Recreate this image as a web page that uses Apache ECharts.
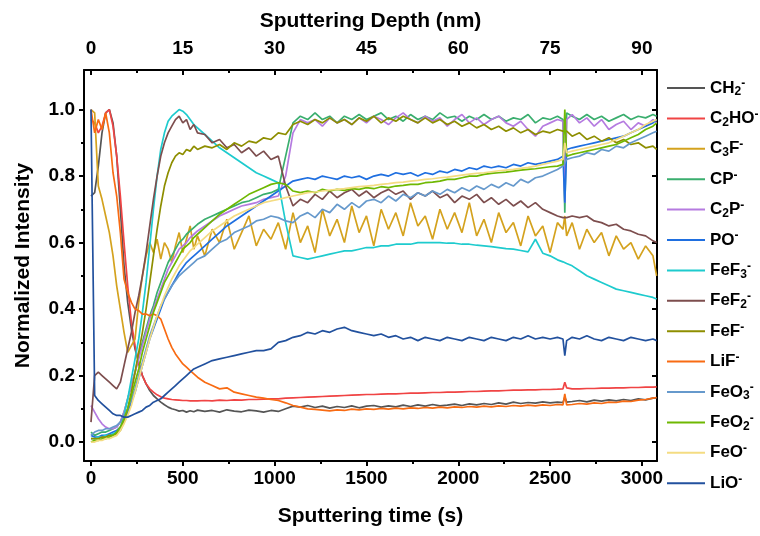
<!DOCTYPE html>
<html>
<head>
<meta charset="utf-8">
<script src="https://cdn.jsdelivr.net/npm/echarts@6/dist/echarts.min.js"></script>
<style>
html, body { margin: 0; padding: 0; background: #fff; }
#chart { width: 760px; height: 536px; }
</style>
</head>
<body>
<div id="chart"></div>
<script>
// sputtering time (s) of each sample
const times = [
  0, 20, 40, 60, 80, 100, 120, 140, 160, 180, 200, 220, 240, 260, 280, 300, 320, 340, 360, 380,
  400, 420, 440, 460, 480, 500, 520, 540, 560, 580,
  620, 660, 700, 740, 780, 820, 860, 900, 940, 980, 1020, 1060, 1100, 1140, 1180, 1220, 1260, 1300, 1340, 1380,
  1420, 1460, 1500, 1540, 1580, 1620, 1660, 1700, 1740, 1780, 1820, 1860, 1900, 1940, 1980, 2020, 2060, 2100, 2140, 2180,
  2220, 2260, 2300, 2340, 2380, 2420, 2460, 2500, 2540,
  2570, 2580, 2590,
  2620, 2660, 2700, 2740, 2780, 2820, 2860, 2900, 2940, 2980, 3020, 3060,
  3080
];

const ch2 = [
  0.74, 0.75, 0.83, 0.93, 0.99, 1.0, 0.96, 0.86, 0.7, 0.53,
  0.42, 0.34, 0.28, 0.24, 0.2, 0.175, 0.155, 0.14, 0.13, 0.12,
  0.112, 0.105, 0.1, 0.097, 0.093, 0.095, 0.09, 0.094, 0.091, 0.096,
  0.092, 0.095, 0.09, 0.097, 0.093, 0.091, 0.096, 0.094, 0.09, 0.095,
  0.092, 0.1, 0.108, 0.105, 0.11, 0.104, 0.108, 0.102, 0.107, 0.104,
  0.109, 0.103, 0.108, 0.11, 0.105, 0.109, 0.106, 0.111, 0.107, 0.112,
  0.108, 0.113, 0.109, 0.111, 0.114, 0.11, 0.115, 0.112, 0.116, 0.113,
  0.118, 0.114, 0.12, 0.116, 0.119, 0.117, 0.121, 0.118, 0.12,
  0.119, 0.135, 0.12,
  0.122, 0.125, 0.121, 0.126, 0.123, 0.127, 0.124, 0.128, 0.125, 0.13, 0.127, 0.132,
  0.133
];
const c2ho = [
  0.97, 0.96, 0.93, 0.95, 0.99, 1.0, 0.95, 0.86, 0.74, 0.6,
  0.47, 0.36, 0.29, 0.235, 0.2, 0.175, 0.16, 0.15, 0.142, 0.136,
  0.132, 0.13, 0.128, 0.127, 0.126, 0.125, 0.125, 0.124, 0.124, 0.124,
  0.125, 0.124, 0.126, 0.125, 0.127, 0.126, 0.128, 0.128, 0.129, 0.13,
  0.13, 0.132, 0.133, 0.134, 0.135, 0.136, 0.137, 0.138, 0.139, 0.14,
  0.141, 0.142, 0.143, 0.143, 0.144, 0.145, 0.145, 0.146, 0.147, 0.147,
  0.148, 0.149, 0.149, 0.15, 0.15, 0.151, 0.152, 0.152, 0.153, 0.154,
  0.154, 0.155, 0.156, 0.156, 0.157, 0.157, 0.158, 0.158, 0.159,
  0.16, 0.18, 0.163,
  0.16, 0.16, 0.161, 0.161, 0.162, 0.162, 0.163, 0.163, 0.164, 0.164, 0.165, 0.165,
  0.166
];
const c3f = [
  1.0, 0.99, 0.77, 0.73, 0.68, 0.63, 0.56, 0.47, 0.4, 0.33,
  0.27, 0.29, 0.31, 0.42, 0.5, 0.56, 0.6, 0.57, 0.61, 0.55,
  0.6, 0.58, 0.54, 0.59, 0.63, 0.57, 0.61, 0.65, 0.58, 0.62,
  0.56, 0.64, 0.6, 0.67, 0.58, 0.63, 0.68, 0.59, 0.64, 0.61,
  0.66, 0.58, 0.69, 0.6, 0.65, 0.57, 0.7, 0.62, 0.67, 0.6,
  0.71, 0.63, 0.68, 0.59, 0.7, 0.64, 0.69, 0.62, 0.72, 0.65,
  0.68, 0.61, 0.7, 0.64, 0.69, 0.63, 0.72, 0.62, 0.67, 0.6,
  0.69, 0.63, 0.66, 0.59, 0.68, 0.62, 0.65, 0.57, 0.66,
  0.64, 0.68, 0.62,
  0.66, 0.58, 0.64, 0.6, 0.63, 0.56, 0.62, 0.58, 0.6, 0.55, 0.59, 0.56,
  0.5
];
const cp = [
  0.03, 0.02, 0.025, 0.03, 0.03, 0.035, 0.04, 0.045, 0.06, 0.09,
  0.13, 0.17, 0.21, 0.26, 0.3, 0.34, 0.38, 0.41, 0.45, 0.48,
  0.51, 0.54, 0.56, 0.58, 0.6, 0.61, 0.625, 0.635, 0.645, 0.655,
  0.67, 0.68, 0.69, 0.7, 0.71, 0.72, 0.725, 0.735, 0.745, 0.75,
  0.76, 0.86, 0.96, 0.98, 0.97, 0.99, 0.97, 0.98, 0.96, 0.98,
  0.97, 0.985, 0.97, 0.98, 0.99, 0.97, 0.98, 0.965, 0.985, 0.97,
  0.98, 0.97, 0.99, 0.975, 0.98, 0.965, 0.98, 0.97, 0.985, 0.97,
  0.98, 0.965, 0.975, 0.97, 0.985, 0.96, 0.975, 0.97, 0.98,
  0.97, 0.69, 0.99,
  0.98, 0.97, 0.985, 0.97, 0.98, 0.965, 0.975, 0.985, 0.97, 0.98, 0.975, 0.985,
  0.98
];
const c2p = [
  0.11, 0.09, 0.07, 0.055, 0.045, 0.04, 0.04, 0.045, 0.06, 0.09,
  0.13, 0.17, 0.21, 0.25, 0.29, 0.33, 0.37, 0.4, 0.43, 0.46,
  0.49, 0.52, 0.54, 0.56, 0.58, 0.59, 0.6, 0.615, 0.625, 0.635,
  0.65, 0.665, 0.68, 0.69, 0.7, 0.71, 0.715, 0.72, 0.73, 0.735,
  0.74, 0.8, 0.93, 0.97, 0.96, 0.97, 0.95, 0.975, 0.96, 0.97,
  0.955, 0.975, 0.96, 0.98, 0.97, 0.955, 0.975, 0.99, 0.97, 0.96,
  0.98, 0.965, 0.975, 0.95, 0.97, 0.985, 0.96, 0.975, 0.955, 0.97,
  0.98, 0.96, 0.95, 0.965, 0.94, 0.92, 0.95, 0.96, 0.97,
  0.965, 0.72, 0.97,
  0.985, 0.96, 0.975, 0.95, 0.97, 0.94, 0.955, 0.965, 0.94, 0.96, 0.95, 0.97,
  0.96
];
const po = [
  0.02, 0.015, 0.015, 0.02, 0.02, 0.025, 0.03, 0.035, 0.045, 0.065,
  0.09, 0.12, 0.15, 0.19, 0.23, 0.27, 0.31, 0.34, 0.37, 0.4,
  0.43, 0.45, 0.47, 0.49, 0.51, 0.525, 0.54, 0.55, 0.56, 0.57,
  0.59, 0.61, 0.63, 0.65, 0.665, 0.68, 0.695, 0.71, 0.725, 0.74,
  0.755, 0.77, 0.785, 0.79, 0.795, 0.79, 0.8, 0.795, 0.79, 0.8,
  0.795, 0.8, 0.79, 0.8, 0.805, 0.8, 0.81, 0.805, 0.81, 0.8,
  0.81, 0.805, 0.815, 0.81, 0.82, 0.815, 0.825, 0.82, 0.83, 0.825,
  0.83, 0.825, 0.835, 0.83, 0.84, 0.835, 0.84, 0.845, 0.85,
  0.86, 0.72, 0.88,
  0.885, 0.89, 0.895, 0.9, 0.905, 0.91, 0.915, 0.92, 0.93, 0.94, 0.95, 0.96,
  0.97
];
const fef3 = [
  0.01, 0.01, 0.015, 0.015, 0.02, 0.02, 0.025, 0.03, 0.04, 0.08,
  0.13, 0.19, 0.25, 0.31, 0.39, 0.48, 0.59, 0.7, 0.8, 0.88,
  0.93, 0.965, 0.98, 0.99, 1.0, 0.995, 0.985, 0.97, 0.955, 0.945,
  0.925, 0.905, 0.885, 0.87, 0.855, 0.84, 0.825, 0.81, 0.8, 0.79,
  0.78, 0.66, 0.56, 0.555, 0.55, 0.555, 0.56, 0.565, 0.57, 0.575,
  0.575, 0.58, 0.585, 0.585, 0.59, 0.59, 0.595, 0.595, 0.595, 0.6,
  0.6, 0.6, 0.6, 0.598, 0.598, 0.595, 0.595, 0.592, 0.59, 0.588,
  0.585, 0.582, 0.58, 0.576, 0.572, 0.61, 0.568, 0.56, 0.548,
  0.542, 0.54, 0.537,
  0.53, 0.515, 0.5, 0.49, 0.48, 0.47, 0.46, 0.455, 0.45, 0.445, 0.44, 0.435,
  0.43
];
const fef2 = [
  0.06, 0.2, 0.21, 0.2, 0.19, 0.18, 0.17, 0.16, 0.18, 0.23,
  0.28, 0.33, 0.39, 0.44, 0.5, 0.57, 0.65, 0.73, 0.8, 0.86,
  0.9, 0.93, 0.95, 0.97, 0.98, 0.96, 0.97, 0.94, 0.955, 0.93,
  0.925, 0.9, 0.91, 0.885, 0.895, 0.87, 0.885, 0.86, 0.875, 0.85,
  0.86, 0.77, 0.71, 0.73, 0.72, 0.745, 0.73, 0.755, 0.735, 0.75,
  0.76, 0.74, 0.755, 0.735, 0.75, 0.76, 0.745, 0.755, 0.73, 0.75,
  0.74, 0.755, 0.735, 0.745, 0.72, 0.74, 0.73, 0.745, 0.72, 0.735,
  0.715, 0.73, 0.71, 0.725, 0.705, 0.72, 0.7, 0.69, 0.68,
  0.675, 0.67, 0.675,
  0.68, 0.675, 0.68, 0.665, 0.66, 0.65, 0.655, 0.64, 0.635, 0.625, 0.62, 0.605,
  0.6
];
const fef = [
  0.01, 0.01, 0.01, 0.015, 0.015, 0.02, 0.02, 0.025, 0.035, 0.06,
  0.1, 0.15, 0.21, 0.27, 0.33, 0.4, 0.48, 0.56, 0.64, 0.71,
  0.77, 0.81, 0.84, 0.86, 0.87, 0.865, 0.88, 0.875, 0.89, 0.88,
  0.89, 0.885, 0.895, 0.88, 0.9, 0.89, 0.905, 0.9, 0.915, 0.91,
  0.93, 0.925, 0.955, 0.965, 0.955, 0.97, 0.96, 0.975, 0.96, 0.97,
  0.955, 0.975, 0.965, 0.98, 0.96, 0.975, 0.965, 0.98, 0.97, 0.96,
  0.975, 0.96, 0.97, 0.955, 0.965, 0.95, 0.96, 0.945, 0.955, 0.94,
  0.95, 0.935, 0.945, 0.93, 0.94, 0.925, 0.935, 0.93, 0.94,
  0.935, 0.93, 0.935,
  0.92, 0.93, 0.91, 0.92, 0.905, 0.915, 0.9, 0.91, 0.895, 0.9, 0.885, 0.89,
  0.88
];
const lif = [
  1.0, 0.93, 0.97, 0.94, 0.99, 0.93, 0.81, 0.74, 0.63, 0.49,
  0.45, 0.42, 0.4, 0.395, 0.385, 0.385, 0.38, 0.385, 0.38, 0.37,
  0.34, 0.31, 0.285, 0.265, 0.25, 0.235, 0.225, 0.215, 0.205, 0.195,
  0.18, 0.17, 0.16, 0.163, 0.15, 0.145, 0.14, 0.135, 0.132, 0.128,
  0.125, 0.118, 0.11, 0.105, 0.1, 0.098, 0.096, 0.094, 0.097, 0.095,
  0.099, 0.097, 0.1, 0.098, 0.101, 0.099, 0.102, 0.1, 0.103, 0.101,
  0.104, 0.102, 0.105, 0.103, 0.106, 0.104, 0.107, 0.105, 0.108, 0.106,
  0.109, 0.107, 0.11, 0.108, 0.111, 0.109, 0.112, 0.11, 0.113,
  0.112, 0.145, 0.112,
  0.113, 0.116, 0.114, 0.118, 0.116, 0.12, 0.119, 0.123, 0.122, 0.126, 0.128, 0.132,
  0.134
];
const feo3 = [
  0.02, 0.03, 0.035, 0.035, 0.04, 0.04, 0.045, 0.05, 0.06, 0.08,
  0.1, 0.13, 0.16, 0.2, 0.24, 0.28, 0.32, 0.35, 0.38, 0.41,
  0.43, 0.45, 0.47, 0.485, 0.5, 0.51, 0.52, 0.53, 0.54, 0.55,
  0.56, 0.58, 0.6, 0.61, 0.63, 0.64, 0.65, 0.665, 0.67, 0.68,
  0.675, 0.665, 0.66, 0.68, 0.69, 0.675, 0.7, 0.69, 0.715, 0.7,
  0.72, 0.705, 0.725, 0.73, 0.72, 0.74, 0.725, 0.745, 0.735, 0.75,
  0.74, 0.755, 0.745, 0.76, 0.75, 0.765, 0.755, 0.77, 0.76, 0.775,
  0.765, 0.78, 0.77, 0.79, 0.78, 0.795, 0.8, 0.81, 0.82,
  0.83, 0.84, 0.85,
  0.855, 0.86, 0.87, 0.865, 0.88, 0.875, 0.89, 0.885, 0.9, 0.91, 0.92, 0.93,
  0.935
];
const feo2 = [
  0.0, 0.005, 0.005, 0.01, 0.01, 0.015, 0.02, 0.03, 0.045, 0.07,
  0.1, 0.14, 0.18, 0.22, 0.27, 0.31, 0.35, 0.39, 0.42, 0.45,
  0.48, 0.5, 0.52, 0.54, 0.56, 0.58, 0.59, 0.6, 0.615, 0.625,
  0.645, 0.665, 0.685, 0.7, 0.715, 0.73, 0.745, 0.755, 0.765, 0.775,
  0.78, 0.775, 0.755, 0.75, 0.755, 0.75, 0.76, 0.755, 0.76, 0.757,
  0.762, 0.76, 0.765, 0.762, 0.768, 0.765, 0.77, 0.772, 0.775, 0.775,
  0.78, 0.782, 0.785, 0.79, 0.79, 0.795, 0.8, 0.8, 0.805, 0.808,
  0.81, 0.812, 0.815, 0.818, 0.82, 0.822, 0.825, 0.828, 0.83,
  0.835, 1.0, 0.86,
  0.865, 0.87, 0.875, 0.88, 0.885, 0.89, 0.895, 0.905, 0.915, 0.925, 0.94, 0.95,
  0.96
];
const feo = [
  0.0, 0.0, 0.005, 0.005, 0.01, 0.01, 0.015, 0.02, 0.035, 0.055,
  0.08, 0.11, 0.15, 0.19, 0.23, 0.27, 0.31, 0.345, 0.38, 0.41,
  0.44, 0.465, 0.49, 0.51, 0.53, 0.545, 0.56, 0.575, 0.585, 0.595,
  0.615, 0.635, 0.65, 0.665, 0.68, 0.69, 0.7, 0.71, 0.72, 0.725,
  0.73, 0.735, 0.74, 0.745, 0.75, 0.752, 0.755, 0.758, 0.76, 0.762,
  0.765, 0.768, 0.77, 0.772, 0.775, 0.777, 0.78, 0.782, 0.785, 0.787,
  0.79, 0.792, 0.795, 0.797, 0.8, 0.803, 0.806, 0.808, 0.81, 0.813,
  0.816, 0.818, 0.82, 0.823, 0.826, 0.83, 0.835, 0.84, 0.845,
  0.85, 0.9, 0.87,
  0.875, 0.88, 0.885, 0.89, 0.895, 0.9, 0.91, 0.92, 0.93, 0.94, 0.955, 0.965,
  0.97
];
const lio = [
  1.0, 0.14, 0.125, 0.115, 0.105, 0.095, 0.085, 0.08, 0.08, 0.075,
  0.075, 0.08, 0.085, 0.09, 0.095, 0.105, 0.11, 0.12, 0.125, 0.13,
  0.14, 0.15, 0.16, 0.17, 0.18, 0.19, 0.2, 0.21, 0.22, 0.225,
  0.235, 0.245, 0.25, 0.255, 0.26, 0.265, 0.27, 0.275, 0.275, 0.28,
  0.3, 0.305, 0.315, 0.32, 0.33, 0.325, 0.335, 0.33, 0.34, 0.345,
  0.335, 0.33, 0.325, 0.32, 0.325, 0.315, 0.32, 0.31, 0.315, 0.305,
  0.315, 0.31, 0.305, 0.315, 0.31, 0.305, 0.315, 0.31, 0.305, 0.315,
  0.31, 0.305, 0.315, 0.31, 0.32, 0.31, 0.315, 0.31, 0.315,
  0.31, 0.26, 0.305,
  0.315, 0.31, 0.32, 0.31, 0.305, 0.315, 0.31, 0.305, 0.315, 0.31, 0.305, 0.31,
  0.305
];

const names = ['CH2-', 'C2HO-', 'C3F-', 'CP-', 'C2P-', 'PO-', 'FeF3-', 'FeF2-', 'FeF-', 'LiF-', 'FeO3-', 'FeO2-', 'FeO-', 'LiO-'];
const values = [ch2, c2ho, c3f, cp, c2p, po, fef3, fef2, fef, lif, feo3, feo2, feo, lio];
const colors = ['#555555', '#F04444', '#D4A21E', '#3AAE6E', '#B57BE0', '#1F6FE0', '#1ECBCE',
  '#7D4E4E', '#8E8E00', '#F86B13', '#6699CC', '#6FB802', '#F4DC82', '#22519E'];

const timeTicks = [0, 500, 1000, 1500, 2000, 2500, 3000];
const timeMinor = [250, 750, 1250, 1750, 2250, 2750];
const depthTicks = [0, 15, 30, 45, 60, 75, 90];
const depthMinor = [7.5, 22.5, 37.5, 52.5, 67.5, 82.5];
const yTicks = [0, 0.2, 0.4, 0.6, 0.8, 1.0];
const yMinor = [0.1, 0.3, 0.5, 0.7, 0.9];

const FONT = '"Liberation Sans", Arial, sans-serif';
const tmin = -38, tmax = 3082;

const chart = echarts.init(document.getElementById('chart'), null, { renderer: 'canvas' });

const labelStyle = { color: '#000', fontFamily: FONT, fontWeight: 'bold', fontSize: 19 };
const nameStyle = { color: '#000', fontFamily: FONT, fontWeight: 'bold', fontSize: 21 };
const line2 = { onZero: false, lineStyle: { color: '#000', width: 2 } };
const noLine = { show: false, onZero: false };
const plain = function (v) { return String(v); };

function fmtName(n) {
  // digits -> subscript, trailing minus -> superscript
  return n.replace(/(\d)/g, '{s|$1}').replace(/-$/, '{p|-}');
}

const series = names.map(function (n, k) {
  return {
    name: n,
    type: 'line',
    xAxisIndex: 0,
    yAxisIndex: 0,
    showSymbol: false,
    symbol: 'none',
    lineStyle: { width: 1.7, color: colors[k] },
    itemStyle: { color: colors[k] },
    data: times.map(function (t, i) { return [t, values[k][i]]; })
  };
});

chart.setOption({
  animation: false,
  backgroundColor: '#fff',
  grid: { left: 84, top: 70, width: 573, height: 391 },
  legend: {
    orient: 'vertical',
    left: 662,
    top: 73,
    icon: 'rect',
    itemWidth: 38,
    itemHeight: 2,
    itemGap: 10.4,
    data: names,
    formatter: fmtName,
    textStyle: {
      color: '#000', fontFamily: FONT, fontWeight: 'bold', fontSize: 17, lineHeight: 20,
      rich: {
        s: { fontFamily: FONT, fontWeight: 'bold', fontSize: 12, lineHeight: 11, verticalAlign: 'bottom', color: '#000' },
        p: { fontFamily: FONT, fontWeight: 'bold', fontSize: 12, lineHeight: 11, verticalAlign: 'top', color: '#000' }
      }
    }
  },
  xAxis: [
    {
      type: 'value', position: 'bottom', min: tmin, max: tmax,
      axisLine: line2,
      axisTick: { inside: false, length: 5, lineStyle: { width: 2, color: '#000' }, customValues: timeTicks },
      axisLabel: Object.assign({ margin: 8, customValues: timeTicks, formatter: plain }, labelStyle),
      splitLine: { show: false },
      name: 'Sputtering time (s)', nameLocation: 'middle', nameGap: 45, nameTextStyle: nameStyle
    },
    {
      type: 'value', position: 'bottom', min: tmin, max: tmax,
      axisLine: noLine,
      axisTick: { inside: false, length: 3, lineStyle: { width: 2, color: '#000' }, customValues: timeMinor },
      axisLabel: { show: false },
      splitLine: { show: false }
    },
    {
      type: 'value', position: 'top', min: tmin * 0.03, max: tmax * 0.03,
      axisLine: line2,
      axisTick: { inside: true, length: 5, lineStyle: { width: 2, color: '#000' }, customValues: depthTicks },
      axisLabel: Object.assign({ margin: 12, customValues: depthTicks, formatter: plain }, labelStyle),
      splitLine: { show: false },
      name: 'Sputtering Depth (nm)', nameLocation: 'middle', nameGap: 38, nameTextStyle: nameStyle
    },
    {
      type: 'value', position: 'top', min: tmin * 0.03, max: tmax * 0.03,
      axisLine: noLine,
      axisTick: { inside: true, length: 3, lineStyle: { width: 2, color: '#000' }, customValues: depthMinor },
      axisLabel: { show: false },
      splitLine: { show: false }
    }
  ],
  yAxis: [
    {
      type: 'value', position: 'left', min: -0.057, max: 1.119,
      axisLine: line2,
      axisTick: { inside: false, length: 5, lineStyle: { width: 2, color: '#000' }, customValues: yTicks },
      axisLabel: Object.assign({ margin: 9, customValues: yTicks, formatter: function (v) { return v.toFixed(1); } }, labelStyle),
      splitLine: { show: false },
      name: 'Normalized Intensity', nameLocation: 'middle', nameGap: 50, nameTextStyle: nameStyle
    },
    {
      type: 'value', position: 'left', min: -0.057, max: 1.119,
      axisLine: noLine,
      axisTick: { inside: false, length: 3, lineStyle: { width: 2, color: '#000' }, customValues: yMinor },
      axisLabel: { show: false },
      splitLine: { show: false }
    },
    {
      type: 'value', position: 'right', min: -0.057, max: 1.119,
      axisLine: line2,
      axisTick: { inside: true, length: 5, lineStyle: { width: 2, color: '#000' }, customValues: yTicks },
      axisLabel: { show: false },
      splitLine: { show: false }
    }
  ],
  series: series
});
</script>
</body>
</html>
